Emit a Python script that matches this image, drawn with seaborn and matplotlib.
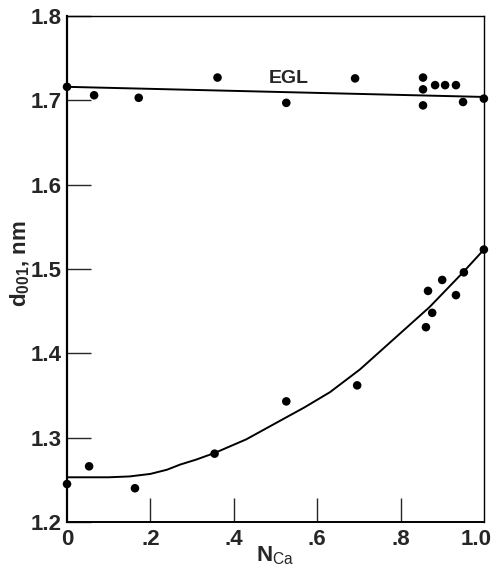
import numpy as np
import pandas as pd
import matplotlib.pyplot as plt
import matplotlib.transforms as mtransforms
import seaborn as sns

# EGL-solvated points (upper branch)
egl_x = [0.0, 0.065, 0.172, 0.361, 0.526, 0.691, 0.854, 0.854, 0.854, 0.883, 0.907, 0.933, 0.950, 1.0]
egl_y = [1.716, 1.706, 1.703, 1.727, 1.697, 1.726, 1.727, 1.713, 1.694, 1.718, 1.718, 1.718, 1.698, 1.702]

# air-dry points (lower branch)
dry_x = [0.0, 0.053, 0.163, 0.354, 0.526, 0.696, 0.861, 0.866, 0.876, 0.900, 0.933, 0.952, 1.0]
dry_y = [1.245, 1.266, 1.240, 1.281, 1.343, 1.362, 1.431, 1.474, 1.448, 1.487, 1.469, 1.496, 1.523]

# fitted lines
egl_fit_x = [0.0, 1.0]
egl_fit_y = [1.716, 1.704]
dry_fit_x = [0.0, 0.1, 0.15, 0.2, 0.24, 0.271, 0.31, 0.355, 0.43, 0.511, 0.57, 0.631, 0.703, 0.782, 0.87, 0.95, 1.0]
dry_fit_y = [1.253, 1.253, 1.254, 1.257, 1.262, 1.268, 1.274, 1.282, 1.298, 1.320, 1.336, 1.354, 1.381, 1.416, 1.455, 1.496, 1.523]

x_ticks = [0, 0.2, 0.4, 0.6, 0.8, 1.0]
x_labels = ['0', '.2', '.4', '.6', '.8', '1.0']
y_ticks = [1.2, 1.3, 1.4, 1.5, 1.6, 1.7, 1.8]
y_labels = ['1.2', '1.3', '1.4', '1.5', '1.6', '1.7', '1.8']

sns.set_style('ticks')
plt.rcParams['font.family'] = ['Liberation Sans', 'DejaVu Sans']
plt.rcParams['mathtext.fontset'] = 'custom'
plt.rcParams['mathtext.rm'] = 'Liberation Sans'
plt.rcParams['mathtext.bf'] = 'Liberation Sans:bold'

fig = plt.figure(figsize=(4.91, 5.67), dpi=100)
ax = fig.add_axes([0.1365, 0.0794, 0.849, 0.8924])

pts = pd.DataFrame({'x': egl_x + dry_x, 'y': egl_y + dry_y})
sns.scatterplot(data=pts, x='x', y='y', ax=ax, color='black', s=38, edgecolor='none', zorder=3, clip_on=False)
sns.lineplot(x=egl_fit_x, y=egl_fit_y, ax=ax, color='black', lw=1.4, estimator=None)
sns.lineplot(x=dry_fit_x, y=dry_fit_y, ax=ax, color='black', lw=1.4, estimator=None)

ax.text(0.533, 1.726, 'EGL', fontsize=14, fontweight='bold', ha='center', va='center')

ax.set_xlim(0, 1.0)
ax.set_ylim(1.2, 1.8)
ax.set_xticks(x_ticks)
ax.set_xticklabels(x_labels, fontsize=16, fontweight='bold')
ax.set_yticks(y_ticks)
ax.set_yticklabels(y_labels, fontsize=16, fontweight='bold')
ax.tick_params(axis='x', direction='in', length=17, width=1, pad=5)
ax.tick_params(axis='y', direction='in', length=17, width=1, pad=4)
# no inner tick at the ends of x
for t in [ax.xaxis.get_major_ticks()[0], ax.xaxis.get_major_ticks()[-1]]:
    t.tick1line.set_visible(False)
last = ax.get_xticklabels()[-1]
last.set_transform(last.get_transform() + mtransforms.ScaledTranslation(-8 / 100, 0, fig.dpi_scale_trans))

for s in ax.spines.values():
    s.set_color('black')
    s.set_linewidth(1.0)
ax.spines['left'].set_linewidth(1.6)
ax.spines['bottom'].set_linewidth(1.4)

ax.set_xlabel(r'$\mathbf{N}_{\mathregular{Ca}}$', fontsize=16, labelpad=-4)
ax.set_ylabel(r'$\mathbf{d}_{\mathregular{001}}$, nm', fontsize=16, fontweight='bold')
ax.yaxis.set_label_coords(-0.084, 0.51)

fig.savefig('out.png', dpi=100)
